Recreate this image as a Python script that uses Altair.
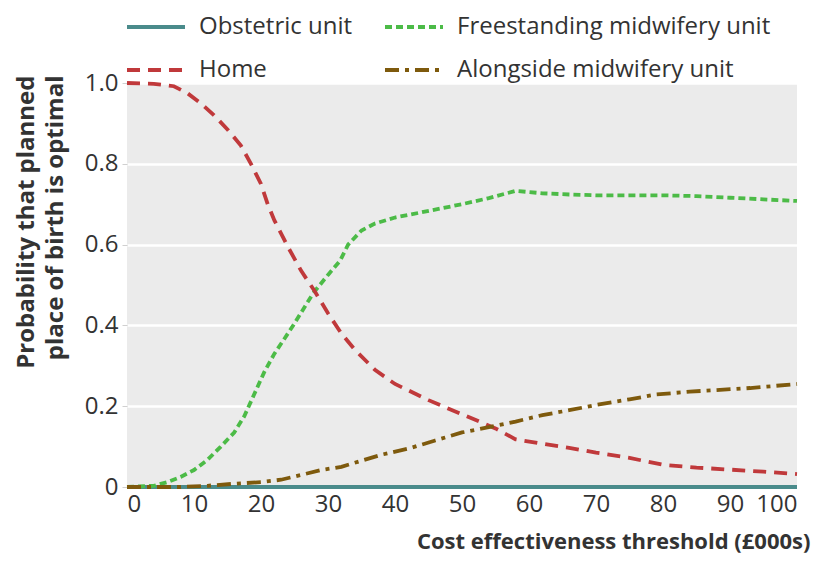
import altair as alt
import pandas as pd

series_names = ["Obstetric unit", "Home", "Freestanding midwifery unit", "Alongside midwifery unit"]
series_colors = ["#4a8b8b", "#c0393b", "#4cbb47", "#7e5a0d"]
series_dashes = [[1, 0], [13, 8], [7, 4], [14, 6, 4, 6]]

obstetric_x = [0, 100]
obstetric_y = [0.0, 0.0]

home_x = [0, 4, 7, 9, 11, 13, 15, 17, 18.5, 20, 21, 22, 24, 26, 28, 30, 32, 34, 37, 40, 45, 50, 55, 58, 62, 66, 70, 75, 80, 85, 90, 95, 100]
home_y = [1.0, 0.998, 0.992, 0.975, 0.95, 0.92, 0.885, 0.845, 0.80, 0.75, 0.70, 0.66, 0.595, 0.535, 0.485, 0.43, 0.38, 0.34, 0.29, 0.255, 0.215, 0.18, 0.145, 0.118, 0.107, 0.097, 0.085, 0.072, 0.055, 0.048, 0.043, 0.038, 0.032]

free_x = [0, 4, 6, 8, 10, 12, 14, 16, 17.5, 19, 20.5, 22, 23.5, 25, 27.8, 30, 31.8, 33, 35, 37, 40, 44, 47, 50, 54, 58, 62, 66, 70, 75, 80, 85, 90, 95, 100]
free_y = [0.0, 0.003, 0.012, 0.025, 0.042, 0.067, 0.10, 0.135, 0.175, 0.23, 0.285, 0.33, 0.367, 0.405, 0.48, 0.525, 0.56, 0.60, 0.635, 0.652, 0.667, 0.68, 0.69, 0.70, 0.715, 0.733, 0.727, 0.724, 0.722, 0.722, 0.722, 0.72, 0.716, 0.712, 0.708]

along_x = [0, 8, 12, 16, 20, 23, 26, 29, 32, 35, 38, 42, 46, 50, 54, 58, 62, 66, 70, 75, 79, 84, 88, 93, 100]
along_y = [0.0, 0.0, 0.003, 0.008, 0.012, 0.018, 0.03, 0.042, 0.05, 0.065, 0.08, 0.095, 0.115, 0.135, 0.148, 0.162, 0.178, 0.19, 0.203, 0.217, 0.229, 0.236, 0.24, 0.245, 0.255]

x_ticks = [0, 10, 20, 30, 40, 50, 60, 70, 80, 90, 100]
y_ticks = [0, 0.2, 0.4, 0.6, 0.8, 1.0]

rows = []
for name, xs, ys in [
    ("Obstetric unit", obstetric_x, obstetric_y),
    ("Freestanding midwifery unit", free_x, free_y),
    ("Home", home_x, home_y),
    ("Alongside midwifery unit", along_x, along_y),
]:
    for i, (a, b) in enumerate(zip(xs, ys)):
        rows.append({"series": name, "x": a, "y": b, "order": i})
df = pd.DataFrame(rows)

FONT = "Open Sans"

legend = alt.Legend(
    title=None, orient="none", legendX=-2, legendY=-87, columns=2,
    symbolType="stroke", symbolSize=3364, symbolStrokeWidth=4,
    labelFontSize=24, labelFont=FONT, labelColor="#333333", labelLimit=500,
    labelOffset=12, columnPadding=24, rowPadding=0, padding=0,
)

chart = alt.Chart(df).mark_line(strokeWidth=3.8, strokeCap="butt").encode(
    x=alt.X("x:Q", scale=alt.Scale(domain=[0, 100], nice=False),
            axis=alt.Axis(values=x_ticks, title="Cost effectiveness threshold (£000s)",
                          grid=False, domain=False, ticks=False, labelPadding=5,
                          titleFontSize=22,
                          titleX=683, titleY=61, titleAlign="right", titleBaseline="alphabetic",
                          titleAnchor="end")),
    y=alt.Y("y:Q", scale=alt.Scale(domain=[0, 1], nice=False),
            axis=alt.Axis(values=y_ticks, title=["Probability that planned", "place of birth is optimal"],
                          labelExpr="datum.value == 0 ? '0' : format(datum.value, '.1f')",
                          grid=True, gridColor="white", gridWidth=2.5, domain=False,
                          tickColor="#d0d0d0", tickSize=5, labelPadding=4,
                          titleFontSize=24, titleY=-8,
                          titleAnchor="end", titleAlign="right", titlePadding=17, titleLineHeight=29)),
    color=alt.Color("series:N", scale=alt.Scale(domain=series_names, range=series_colors), legend=legend),
    strokeDash=alt.StrokeDash("series:N", scale=alt.Scale(domain=series_names, range=series_dashes), legend=legend),
    order="order:Q",
).properties(
    width=670, height=404,
    autosize=alt.AutoSizeParams(type="none"),
    padding={"left": 119, "top": 75, "right": 15, "bottom": 77},
).configure_view(
    fill="#ebebeb", stroke=None
).configure_axis(
    labelFont=FONT, labelFontSize=24, labelColor="#333333",
    titleFont=FONT, titleFontWeight="bold", titleColor="#333333",
)

chart.save("out.html", embed_options={"renderer": "svg", "actions": False})
